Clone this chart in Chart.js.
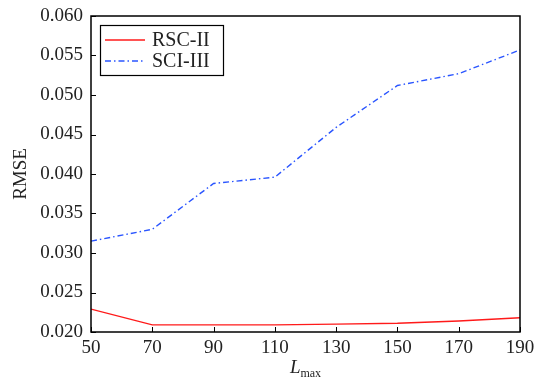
<!DOCTYPE html>
<html>
<head>
<meta charset="utf-8">
<script src="https://cdn.jsdelivr.net/npm/chart.js@4.4.0/dist/chart.umd.min.js"></script>
<style>
  html, body { margin: 0; padding: 0; background: #fff; }
  #wrap { width: 534px; height: 380px; }
</style>
</head>
<body>
<div id="wrap"><canvas id="chart1" width="534" height="380"></canvas></div>
<script>
// datos
const lmax = [50, 70, 90, 110, 130, 150, 170, 190];
const rscII = [0.0229, 0.0209, 0.0209, 0.0209, 0.0210, 0.0211, 0.0214, 0.0218];
const sciIII = [0.0315, 0.0330, 0.0388, 0.0396, 0.0459, 0.0512, 0.0527, 0.0557];
const yTicks = ['0.020', '0.025', '0.030', '0.035', '0.040', '0.045', '0.050', '0.055', '0.060'];

const fuente = '"Liberation Serif", "DejaVu Serif", serif';

// marco, ticks hacia dentro, leyenda y títulos
const extras = {
  id: 'extras',
  afterDraw(chart) {
    const { ctx, chartArea: a, scales } = chart;
    const x = scales.x, y = scales.y;
    ctx.save();
    ctx.strokeStyle = '#000';
    ctx.lineWidth = 1.5;
    ctx.strokeRect(a.left, a.top, a.right - a.left, a.bottom - a.top);

    ctx.lineWidth = 1;
    ctx.beginPath();
    lmax.forEach(v => {
      const px = Math.round(x.getPixelForValue(v)) + 0.5;
      ctx.moveTo(px, a.bottom);
      ctx.lineTo(px, a.bottom - 5);
    });
    yTicks.forEach(t => {
      const py = Math.round(y.getPixelForValue(Number(t))) + 0.5;
      ctx.moveTo(a.left, py);
      ctx.lineTo(a.left + 5, py);
    });
    ctx.stroke();

    // leyenda
    const lx = 100, ly = 25, lw = 123, lh = 50;
    ctx.fillStyle = '#fff';
    ctx.fillRect(lx, ly, lw, lh);
    ctx.lineWidth = 1.2;
    ctx.strokeRect(lx + 0.5, ly + 0.5, lw, lh);
    chart.data.datasets.forEach((ds, i) => {
      const yy = ly + 15 + i * 21;
      ctx.strokeStyle = ds.borderColor;
      ctx.lineWidth = ds.borderWidth;
      ctx.setLineDash(ds.borderDash || []);
      ctx.beginPath();
      ctx.moveTo(lx + 5, yy);
      ctx.lineTo(lx + 45, yy);
      ctx.stroke();
      ctx.setLineDash([]);
      ctx.fillStyle = '#222';
      ctx.font = '20px ' + fuente;
      ctx.textBaseline = 'middle';
      ctx.textAlign = 'left';
      ctx.fillText(ds.label, lx + 52, yy + 1);
    });

    // título eje y
    ctx.fillStyle = '#222';
    ctx.font = '19px ' + fuente;
    ctx.save();
    ctx.translate(21, (a.top + a.bottom) / 2);
    ctx.rotate(-Math.PI / 2);
    ctx.textAlign = 'center';
    ctx.textBaseline = 'middle';
    ctx.fillText('RMSE', 0, 0);
    ctx.restore();

    // título eje x: L_max
    const cx = (a.left + a.right) / 2;
    ctx.textBaseline = 'alphabetic';
    ctx.textAlign = 'left';
    ctx.font = 'italic 19px ' + fuente;
    const wL = ctx.measureText('L').width;
    ctx.font = '12px ' + fuente;
    const wM = ctx.measureText('max').width;
    const x0 = cx - (wL + wM) / 2;
    ctx.font = 'italic 19px ' + fuente;
    ctx.fillText('L', x0, 373);
    ctx.font = '12px ' + fuente;
    ctx.fillText('max', x0 + wL, 377);
    ctx.restore();
  }
};

new Chart(document.getElementById('chart1').getContext('2d'), {
  type: 'line',
  data: {
    labels: lmax,
    datasets: [{
      label: 'RSC-II',
      data: lmax.map((v, i) => ({ x: v, y: rscII[i] })),
      borderColor: '#ff1a1a',
      borderWidth: 1.4,
      pointRadius: 0,
      tension: 0
    }, {
      label: 'SCI-III',
      data: lmax.map((v, i) => ({ x: v, y: sciIII[i] })),
      borderColor: '#2a55ff',
      borderWidth: 1.4,
      borderDash: [6, 3, 1.5, 3],
      pointRadius: 0,
      tension: 0
    }]
  },
  options: {
    responsive: false,
    animation: false,
    layout: { padding: { left: 0, top: 16, right: 0, bottom: 0 } },
    plugins: { legend: { display: false }, tooltip: { enabled: false } },
    scales: {
      x: {
        type: 'linear',
        min: 50, max: 190,
        afterBuildTicks: s => { s.ticks = lmax.map(v => ({ value: v })); },
        afterFit: s => { s.height = 48; s.paddingRight = 14; },
        grid: { display: false, drawTicks: false },
        border: { display: false },
        ticks: { color: '#222', font: { family: fuente, size: 19 }, padding: 5, maxRotation: 0 }
      },
      y: {
        min: 0.02, max: 0.06,
        afterBuildTicks: s => { s.ticks = yTicks.map(t => ({ value: Number(t) })); },
        afterFit: s => { s.width = 91; s.paddingTop = 0; s.paddingBottom = 0; },
        grid: { display: false, drawTicks: false },
        border: { display: false },
        ticks: {
          color: '#222', font: { family: fuente, size: 19 }, padding: 8,
          callback: v => v.toFixed(3)
        }
      }
    }
  },
  plugins: [extras]
});
</script>
</body>
</html>
